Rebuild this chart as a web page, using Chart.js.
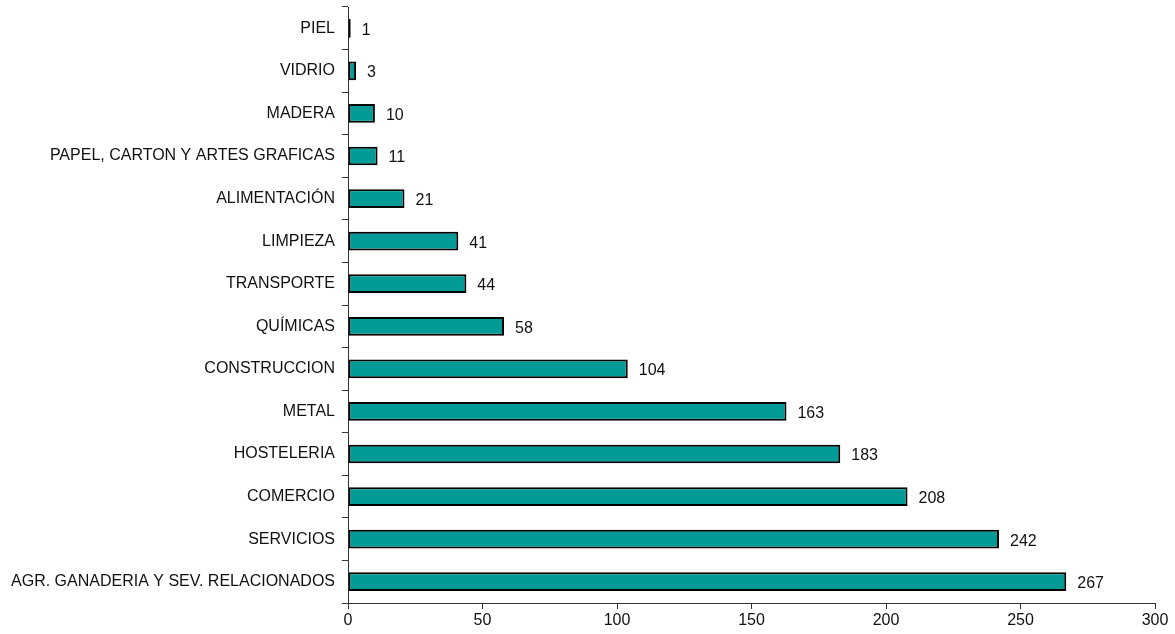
<!DOCTYPE html>
<html>
<head>
<meta charset="utf-8">
<script src="https://cdn.jsdelivr.net/npm/chart.js@4/dist/chart.umd.min.js"></script>
<style>
  html, body { margin: 0; padding: 0; background: #fff; }
</style>
</head>
<body>
<canvas id="myChart" width="1175" height="634"></canvas>
<script>
const sectors = [
  'PIEL',
  'VIDRIO',
  'MADERA',
  'PAPEL, CARTON Y ARTES GRAFICAS',
  'ALIMENTACIÓN',
  'LIMPIEZA',
  'TRANSPORTE',
  'QUÍMICAS',
  'CONSTRUCCION',
  'METAL',
  'HOSTELERIA',
  'COMERCIO',
  'SERVICIOS',
  'AGR. GANADERIA Y SEV. RELACIONADOS',
];
const counts = [1, 3, 10, 11, 21, 41, 44, 58, 104, 163, 183, 208, 242, 267];
const xTicks = [0, 50, 100, 150, 200, 250, 300];

const FONT = 'Liberation Sans, Arial, sans-serif';

// labels at the end of each bar
const valueLabels = {
  id: 'valueLabels',
  afterDatasetsDraw(chart) {
    const ctx = chart.ctx;
    const meta = chart.getDatasetMeta(0);
    ctx.save();
    ctx.font = '16px ' + FONT;
    ctx.fillStyle = '#111';
    ctx.textAlign = 'left';
    ctx.textBaseline = 'middle';
    meta.data.forEach((bar, i) => {
      ctx.fillText(String(counts[i]), bar.x + 11, bar.y + 2);
    });
    ctx.restore();
  },
};

const ctx = document.getElementById('myChart').getContext('2d');
const myChart = new Chart(ctx, {
  type: 'bar',
  data: {
    labels: sectors,
    datasets: [
      {
        data: counts,
        backgroundColor: '#009b96',
        borderColor: '#000',
        borderWidth: 2,
        borderSkipped: false,
        barPercentage: 0.44,
        categoryPercentage: 1,
      },
    ],
  },
  options: {
    indexAxis: 'y',
    responsive: false,
    animation: false,
    layout: { padding: { top: 7, right: 20, left: 0, bottom: 0 } },
    plugins: { legend: { display: false }, tooltip: { enabled: false } },
    scales: {
      x: {
        min: 0,
        max: 300,
        afterBuildTicks: (scale) => {
          scale.ticks = xTicks.map((v) => ({ value: v }));
        },
        border: { color: '#333', width: 1 },
        grid: { drawOnChartArea: false, drawTicks: true, tickLength: 6, color: '#333' },
        ticks: { color: '#111', font: { family: FONT, size: 16 }, padding: 2, maxRotation: 0 },
        afterFit: (scale) => { scale.height = 31; },
      },
      y: {
        border: { color: '#333', width: 1 },
        grid: { drawOnChartArea: false, drawTicks: true, tickLength: 6, color: '#333', offset: true },
        ticks: { color: '#111', font: { family: FONT, size: 16 }, padding: 7, autoSkip: false },
        afterFit: (scale) => {
          scale.width = 348;
          scale.paddingTop = 0;
          scale.paddingBottom = 0;
        },
      },
    },
  },
  plugins: [valueLabels],
});
</script>
</body>
</html>
